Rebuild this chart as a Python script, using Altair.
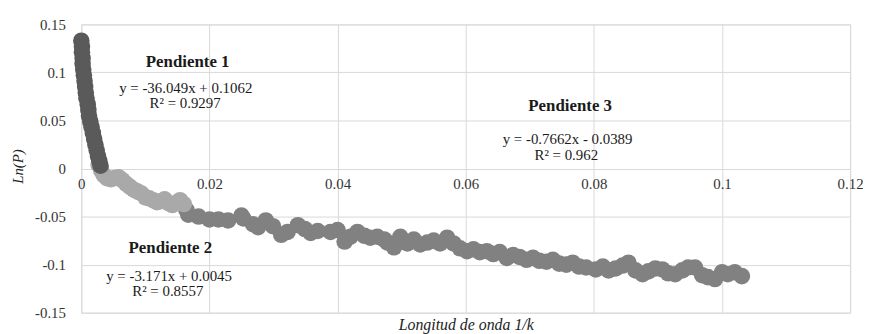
import altair as alt
import pandas as pd

# Segment 1 (steep part, dark)
x1 = [0.0000, 0.0001, 0.0001, 0.0002, 0.0002, 0.0003, 0.0004, 0.0005, 0.0006, 0.0007,
      0.0008, 0.0010, 0.0011, 0.0012, 0.0014, 0.0016, 0.0018, 0.0020, 0.0022, 0.0024,
      0.0026, 0.0028, 0.0030]
y1 = [0.133, 0.127, 0.121, 0.115, 0.109, 0.103, 0.097, 0.091, 0.085, 0.079,
      0.073, 0.067, 0.061, 0.055, 0.049, 0.043, 0.037, 0.031, 0.025, 0.019,
      0.013, 0.008, 0.003]

# Segment 2 (light)
x2 = [0.0027, 0.0031, 0.0035, 0.0040, 0.0046, 0.0052, 0.0058, 0.0064, 0.0070, 0.0076,
      0.0082, 0.0088, 0.0094, 0.0100, 0.0106, 0.0112, 0.0118, 0.0124, 0.0130, 0.0136,
      0.0142, 0.0148, 0.0154, 0.0160]
y2 = [0.004, -0.002, -0.007, -0.010, -0.011, -0.010, -0.009, -0.012, -0.016, -0.019,
      -0.022, -0.024, -0.026, -0.030, -0.031, -0.033, -0.035, -0.034, -0.032, -0.036,
      -0.038, -0.036, -0.033, -0.037]

# Segment 3 (medium)
x3 = [0.0164, 0.0167, 0.0183, 0.0200, 0.0214, 0.0229, 0.0250, 0.0253, 0.0268, 0.0276,
      0.0288, 0.0299, 0.0312, 0.0322, 0.0338, 0.0349, 0.0358, 0.0369, 0.0389, 0.0400,
      0.0411, 0.0420, 0.0431, 0.0442, 0.0451, 0.0462, 0.0473, 0.0478, 0.0488, 0.0498,
      0.0509, 0.0519, 0.0529, 0.0540, 0.0550, 0.0560, 0.0571, 0.0581, 0.0591, 0.0602,
      0.0612, 0.0622, 0.0633, 0.0643, 0.0653, 0.0664, 0.0674, 0.0684, 0.0695, 0.0705,
      0.0715, 0.0726, 0.0736, 0.0746, 0.0757, 0.0767, 0.0777, 0.0788, 0.0803, 0.0814,
      0.0823, 0.0834, 0.0845, 0.0854, 0.0865, 0.0876, 0.0885, 0.0896, 0.0907, 0.0916,
      0.0927, 0.0938, 0.0947, 0.0958, 0.0969, 0.0978, 0.0989, 0.1000, 0.1009, 0.1020,
      0.1031]
y3 = [-0.043, -0.048, -0.050, -0.053, -0.053, -0.054, -0.049, -0.052, -0.058, -0.061,
      -0.054, -0.060, -0.069, -0.066, -0.059, -0.063, -0.067, -0.065, -0.066, -0.064,
      -0.076, -0.071, -0.066, -0.070, -0.072, -0.071, -0.074, -0.077, -0.082, -0.071,
      -0.078, -0.074, -0.079, -0.077, -0.075, -0.078, -0.072, -0.078, -0.083, -0.086,
      -0.084, -0.087, -0.086, -0.089, -0.087, -0.093, -0.090, -0.092, -0.095, -0.093,
      -0.096, -0.097, -0.095, -0.099, -0.100, -0.098, -0.102, -0.103, -0.105, -0.102,
      -0.106, -0.104, -0.101, -0.098, -0.106, -0.110, -0.107, -0.104, -0.105, -0.109,
      -0.110, -0.106, -0.103, -0.103, -0.111, -0.113, -0.115, -0.108, -0.110, -0.108,
      -0.112]

seg_names = ["Pendiente 1", "Pendiente 2", "Pendiente 3"]
seg_colors = ["#5a5a5a", "#a9a9a9", "#818181"]

# Annotations (label text, position in data units)
ann_text = ["Pendiente 1", "y = -36.049x + 0.1062", "R² = 0.9297",
            "Pendiente 2", "y = -3.171x + 0.0045", "R² = 0.8557",
            "Pendiente 3", "y = -0.7662x - 0.0389", "R² = 0.962"]
ann_x = [0.0166, 0.0163, 0.0162, 0.0139, 0.0137, 0.0135, 0.0763, 0.0759, 0.0757]
ann_y = [0.111, 0.0835, 0.068, -0.0825, -0.112, -0.128, 0.065, 0.031, 0.0144]
ann_bold = [True, False, False, True, False, False, True, False, False]

x_ticks = [0, 0.02, 0.04, 0.06, 0.08, 0.1, 0.12]
y_ticks = [-0.15, -0.1, -0.05, 0, 0.05, 0.1, 0.15]

rows = []
for name, xs, ys in zip(seg_names, [x1, x2, x3], [y1, y2, y3]):
    for a, b in zip(xs, ys):
        rows.append({"x": a, "y": b, "seg": name})
df = pd.DataFrame(rows)

ann = pd.DataFrame({"t": ann_text, "x": ann_x, "y": ann_y, "b": ann_bold})

FONT = "Liberation Serif"
label_expr = "datum.value == 0 ? '0' : (datum.value < 0 ? '-' : '') + format(abs(datum.value), '~g')"

xscale = alt.Scale(domain=[0, 0.12], nice=False, zero=False)
yscale = alt.Scale(domain=[-0.15, 0.15], nice=False, zero=False)

points = alt.Chart(df).mark_circle(size=280, opacity=1, clip=False).encode(
    x=alt.X("x:Q", scale=xscale,
            axis=alt.Axis(values=x_ticks, labelExpr=label_expr, offset=-145.5,
                          title="Longitud de onda 1/k", titleFont=FONT, titleFontStyle="italic",
                          titleFontWeight="normal", titleFontSize=16, titleColor="#222222",
                          titleY=157, titleBaseline="middle",
                          labelFont=FONT, labelFontSize=15, labelColor="#333333",
                          labelPadding=8, ticks=False, domain=False,
                          gridColor="#d9d9d9", gridWidth=1, labelFlush=False)),
    y=alt.Y("y:Q", scale=yscale,
            axis=alt.Axis(values=y_ticks, labelExpr=label_expr,
                          title="Ln(P)", titleFont=FONT, titleFontStyle="italic",
                          titleFontWeight="normal", titleFontSize=15, titleColor="#222222",
                          titleX=-64, titleY=143, titleAngle=-90, titleAlign="center",
                          titleBaseline="middle",
                          labelFont=FONT, labelFontSize=15, labelColor="#333333",
                          labelPadding=16, ticks=False, domain=False,
                          gridColor="#d9d9d9", gridWidth=1, labelFlush=False)),
    color=alt.Color("seg:N", scale=alt.Scale(domain=seg_names, range=seg_colors), legend=None),
    order=alt.Order("seg:N", sort="descending"),
)

text_bold = alt.Chart(ann).transform_filter("datum.b").mark_text(
    font=FONT, fontSize=17, fontWeight="bold", color="#1a1a1a", align="center", baseline="middle"
).encode(x=alt.X("x:Q", scale=xscale), y=alt.Y("y:Q", scale=yscale), text="t:N")

text_norm = alt.Chart(ann).transform_filter("!datum.b").mark_text(
    font=FONT, fontSize=15, color="#1a1a1a", align="center", baseline="middle"
).encode(x=alt.X("x:Q", scale=xscale), y=alt.Y("y:Q", scale=yscale), text="t:N")

chart = alt.layer(points, text_bold, text_norm).properties(
    width=776, height=291,
    autosize=alt.AutoSizeParams(type="none"),
    padding={"left": 74, "top": 15, "right": 13, "bottom": 20},
).configure_view(stroke=None).configure(background="white")

chart.save("out.html", embed_options={"renderer": "svg", "actions": False})
